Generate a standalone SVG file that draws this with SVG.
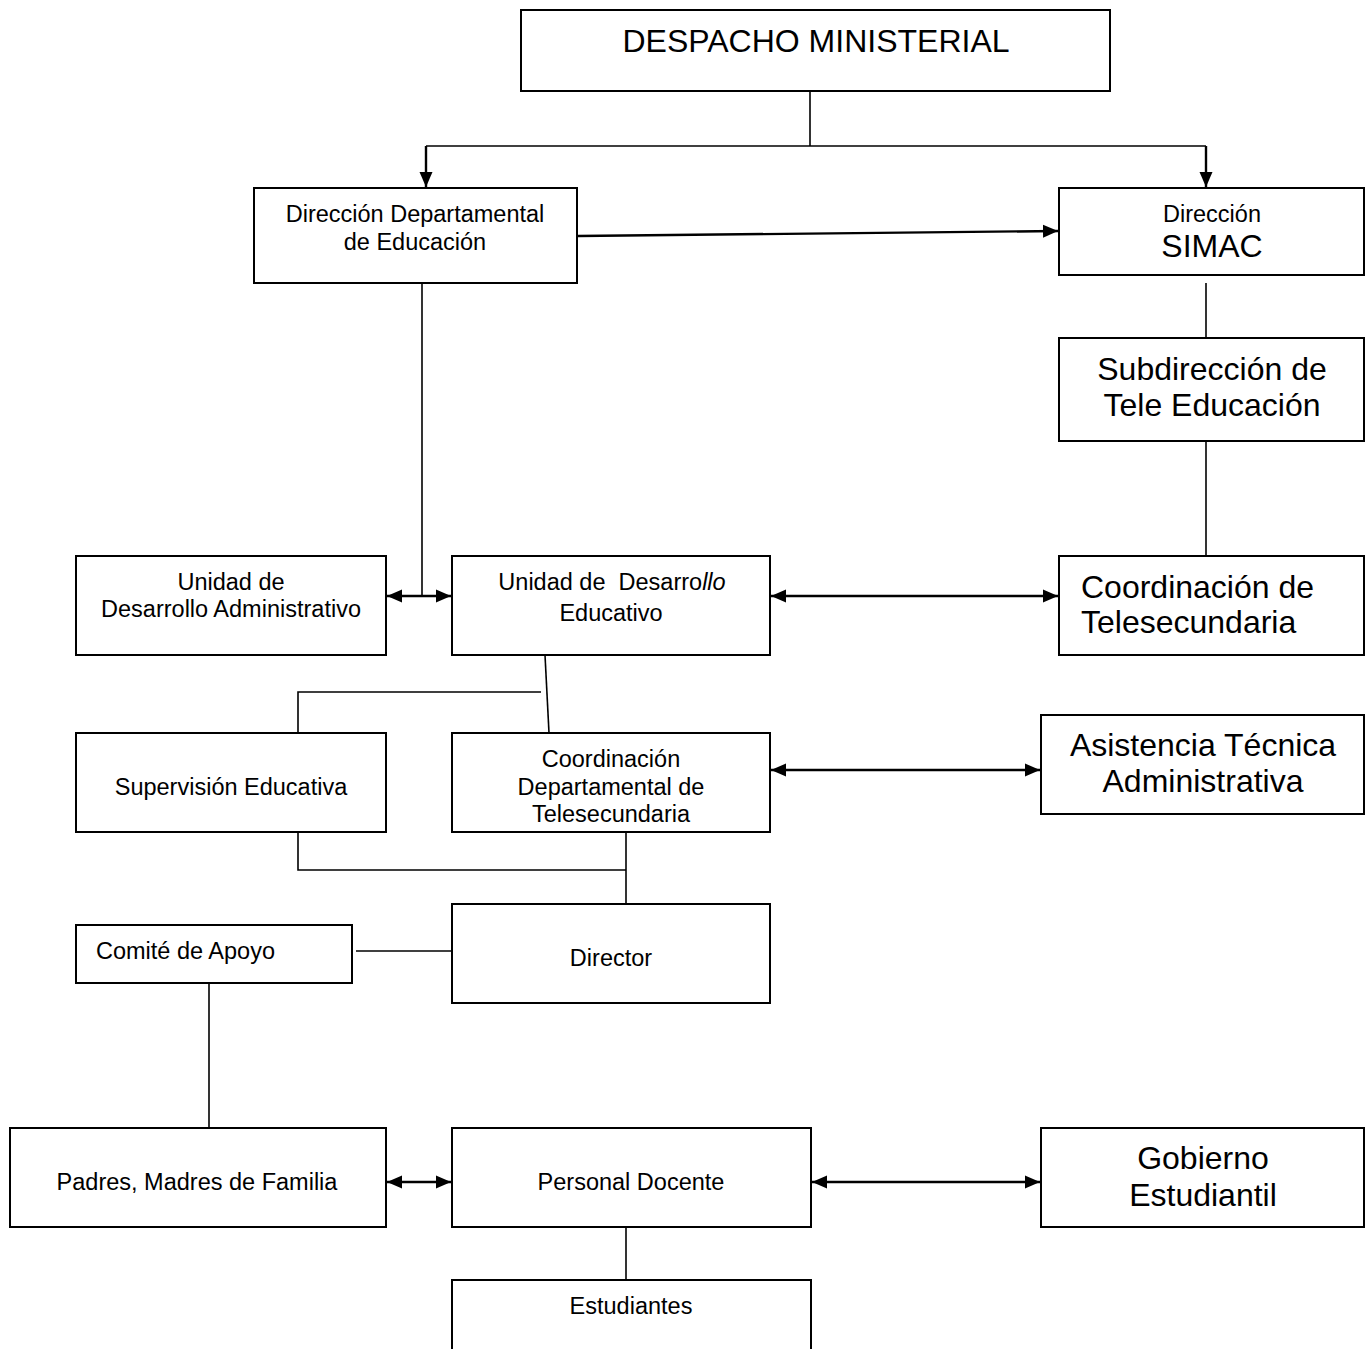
<svg xmlns="http://www.w3.org/2000/svg" width="1369" height="1349" viewBox="0 0 1369 1349">
<style>
.box{fill:#fff;stroke:#000;stroke-width:2}
.ln{fill:none;stroke:#000;stroke-width:1.6}
.ar{fill:none;stroke:#000;stroke-width:2.4}
text{font-family:"Liberation Sans",Arial,sans-serif;fill:#000}
.s{font-size:23.5px;text-anchor:middle}
.l{font-size:32px;text-anchor:middle}
</style>
<defs>
<marker id="ah" markerUnits="userSpaceOnUse" markerWidth="16" markerHeight="14" refX="15" refY="6.5" orient="auto-start-reverse" viewBox="0 0 16 13">
<path d="M0,0 L15,6.5 L0,13 z" fill="#000"/>
</marker>
</defs>
<g id="connectors">
<path class="ln" d="M810,91 V146"/>
<path class="ln" d="M426,146 H1206"/>
<path class="ar" d="M426,146 V187" marker-end="url(#ah)"/>
<path class="ar" d="M1206,146 V187" marker-end="url(#ah)"/>
<path class="ar" d="M578,236 L1058,231" marker-end="url(#ah)"/>
<path class="ln" d="M1206,283 V338"/>
<path class="ln" d="M1206,441 V556"/>
<path class="ln" d="M422,283 V596"/>
<path class="ar" d="M387,596 H451" marker-start="url(#ah)" marker-end="url(#ah)"/>
<path class="ar" d="M771,596 H1058" marker-start="url(#ah)" marker-end="url(#ah)"/>
<path class="ln" d="M545,655 L549,733"/>
<path class="ln" d="M298,733 V692 H541"/>
<path class="ar" d="M771,770 H1040" marker-start="url(#ah)" marker-end="url(#ah)"/>
<path class="ln" d="M298,832 V870 H626"/>
<path class="ln" d="M626,832 V904"/>
<path class="ln" d="M356,951 H452"/>
<path class="ln" d="M209,983 V1128"/>
<path class="ar" d="M387,1182 H451" marker-start="url(#ah)" marker-end="url(#ah)"/>
<path class="ar" d="M812,1182 H1040" marker-start="url(#ah)" marker-end="url(#ah)"/>
<path class="ln" d="M626,1227 V1280"/>
</g>
<g id="despacho"><rect class="box" x="521" y="10" width="589" height="81"/><text class="l" x="816" y="52">DESPACHO MINISTERIAL</text></g>
<g id="dir-dep"><rect class="box" x="254" y="188" width="323" height="95"/><text class="s" x="415" y="222">Dirección Departamental</text><text class="s" x="415" y="250">de Educación</text></g>
<g id="dir-simac"><rect class="box" x="1059" y="188" width="305" height="87"/><text class="s" x="1212" y="222">Dirección</text><text class="l" x="1212" y="257">SIMAC</text></g>
<g id="subdir"><rect class="box" x="1059" y="338" width="305" height="103"/><text class="l" x="1212" y="380">Subdirección de</text><text class="l" x="1212" y="416">Tele Educación</text></g>
<g id="coord-tele"><rect class="box" x="1059" y="556" width="305" height="99"/><text x="1081" y="598" font-size="32">Coordinación de</text><text x="1081" y="633" font-size="32">Telesecundaria</text></g>
<g id="unidad-adm"><rect class="box" x="76" y="556" width="310" height="99"/><text class="s" x="231" y="590">Unidad de</text><text class="s" x="231" y="617">Desarrollo Administrativo</text></g>
<g id="unidad-edu"><rect class="box" x="452" y="556" width="318" height="99"/><text class="s" x="612" y="590" xml:space="preserve">Unidad de  Desarro<tspan font-style="italic">llo</tspan></text><text class="s" x="611" y="621">Educativo</text></g>
<g id="supervision"><rect class="box" x="76" y="733" width="310" height="99"/><text class="s" x="231" y="795">Supervisión Educativa</text></g>
<g id="coord-dep"><rect class="box" x="452" y="733" width="318" height="99"/><text class="s" x="611" y="767">Coordinación</text><text class="s" x="611" y="795">Departamental de</text><text class="s" x="611" y="822">Telesecundaria</text></g>
<g id="asistencia"><rect class="box" x="1041" y="715" width="323" height="99"/><text class="l" x="1203" y="756">Asistencia Técnica</text><text class="l" x="1203" y="792">Administrativa</text></g>
<g id="director"><rect class="box" x="452" y="904" width="318" height="99"/><text class="s" x="611" y="966">Director</text></g>
<g id="comite"><rect class="box" x="76" y="925" width="276" height="58"/><text x="96" y="959" font-size="23.5">Comité de Apoyo</text></g>
<g id="padres"><rect class="box" x="10" y="1128" width="376" height="99"/><text class="s" x="197" y="1190">Padres, Madres de Familia</text></g>
<g id="docente"><rect class="box" x="452" y="1128" width="359" height="99"/><text class="s" x="631" y="1190">Personal Docente</text></g>
<g id="gobierno"><rect class="box" x="1041" y="1128" width="323" height="99"/><text class="l" x="1203" y="1169">Gobierno</text><text class="l" x="1203" y="1206">Estudiantil</text></g>
<g id="estudiantes"><rect class="box" x="452" y="1280" width="359" height="80"/><text class="s" x="631" y="1314">Estudiantes</text></g>
</svg>
